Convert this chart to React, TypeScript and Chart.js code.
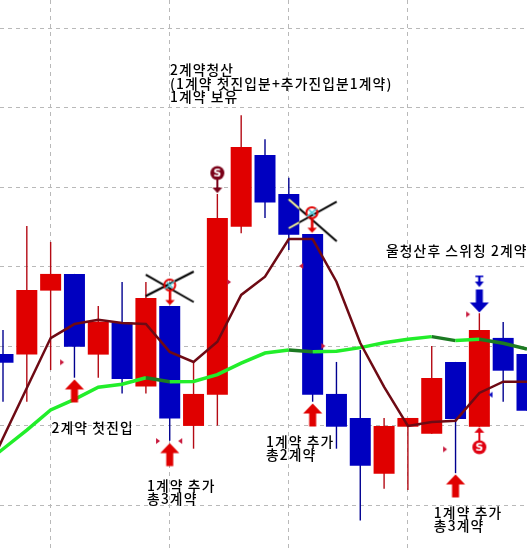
import React, { useEffect, useRef } from "react";
import { Chart, registerables } from "chart.js";

Chart.register(...registerables);

const opens = [209.52, 209.48, 213.5, 214.55, 209.48, 211.49, 207.47, 212.54, 205.0, 206.96, 217.52, 222.02, 219.57, 217.06, 207.01, 205.5, 202.0, 204.95, 204.51, 209.02, 204.95, 210.53, 209.52];
const closes = [208.97, 213.54, 214.55, 209.98, 211.55, 207.95, 213.04, 205.46, 207.01, 218.06, 222.52, 219.03, 217.01, 206.96, 204.95, 202.5, 205.0, 205.5, 208.01, 205.44, 211.03, 208.47, 205.96];
const highs = [211.03, 217.56, 216.56, 214.55, 212.54, 214.04, 214.04, 212.54, 209.04, 219.57, 224.52, 223.01, 220.6, 217.06, 209.02, 209.77, 205.5, 205.5, 210.02, 209.02, 212.08, 211.53, 209.52];
const lows = [206.52, 206.52, 208.51, 208.03, 208.03, 207.03, 207.03, 204.07, 203.57, 205.02, 217.1, 218.06, 216.05, 206.52, 203.57, 199.05, 201.06, 200.98, 204.51, 202.03, 204.95, 206.52, 205.96];
const shortMa = [204.24, 207.38, 210.52, 211.4, 211.67, 211.47, 211.4, 209.65, 209.02, 210.29, 213.23, 214.38, 216.74, 216.74, 214.06, 210.21, 207.45, 205.0, 205.25, 205.33, 207.07, 207.78, 207.78];
const longMa = [203.55, 204.74, 206.0, 206.67, 207.43, 207.62, 208.03, 207.78, 207.79, 208.22, 208.94, 209.58, 209.77, 209.66, 209.69, 209.92, 210.23, 210.44, 210.61, 210.36, 210.44, 210.19, 209.83];
// values of the two averages on the bar just left of the visible window
const shortMaBefore = 200.97;
const longMaBefore = 202.36;

const gridIndexes = [2, 7, 12, 17, 22];
const gridPrices = [200, 205, 210, 215, 220, 225, 230];

const buyIndexes = [3, 7, 13, 19];
const buyPrices = [207.2, 203.2, 205.69, 201.23];
const sellIndexes = [20];
const sellPrices = [212.85];
const smallSellIndexes = [20];
const smallSellPrices = [214.07];
const stopUpIndexes = [20];
const stopUpPrices = [204.07];
const stopDownIndexes = [9];
const stopDownPrices = [220.48];
const crossAIndexes = [7];
const crossAPrices = [213.82];
const crossBIndexes = [13];
const crossBPrices = [217.92];
const tickRightIndexes = [2.48, 6.51, 9.49, 13.45, 18.56, 19.53];
const tickRightPrices = [209.0, 204.05, 214.04, 210.02, 203.53, 212.01];
const tickLeftIndexes = [7.44, 12.52];
const tickLeftPrices = [204.05, 215.05];
const tickBlueIndexes = [20.47];
const tickBluePrices = [206.96];

const noteTexts = [
  "2계약청산",
  "(1계약 첫진입분+추가진입분1계약)",
  "1계약 보유",
  "울청산후 스위칭 2계약",
  "2계약 첫진입",
  "1계약 추가",
  "총3계약",
  "1계약 추가",
  "총2계약",
  "1계약 추가",
  "총3계약",
];
const noteIndexes = [7.01, 7.01, 7.01, 16.08, 2.04, 6.05, 6.05, 11.04, 11.04, 18.09, 18.09];
const notePrices = [227.36, 226.48, 225.67, 215.99, 204.89, 201.23, 200.41, 204.01, 203.17, 199.55, 198.71];

const RED = "#e00000";
const BLUE = "#0000c0";

function sprite(w: number, h: number, paint: (c: CanvasRenderingContext2D) => void) {
  const cv = document.createElement("canvas");
  cv.width = w;
  cv.height = h;
  const c = cv.getContext("2d")!;
  c.translate(w / 2, h / 2);
  paint(c);
  return cv;
}

function poly(c: CanvasRenderingContext2D, color: string, pts: number[][]) {
  c.fillStyle = color;
  c.beginPath();
  pts.forEach((p, i) => (i ? c.lineTo(p[0], p[1]) : c.moveTo(p[0], p[1])));
  c.closePath();
  c.fill();
}

function bigArrow(color: string, dir: number) {
  return sprite(24, 28, (c) => {
    poly(c, color, [
      [0, -11.5 * dir],
      [9.5, -1.5 * dir],
      [3.5, -1.5 * dir],
      [3.5, 11.5 * dir],
      [-3.5, 11.5 * dir],
      [-3.5, -1.5 * dir],
      [-9.5, -1.5 * dir],
    ]);
  });
}

function smallBarArrow(color: string) {
  return sprite(14, 16, (c) => {
    poly(c, color, [[-4, -6], [4, -6], [4, -4.5], [1.2, -4.5], [1.2, 0], [4.5, 0], [0, 5.5], [-4.5, 0], [-1.2, 0], [-1.2, -4.5], [-4, -4.5]]);
  });
}

function stopBadge(color: string, dir: number) {
  // dir = 1: circle above, arrow below pointing down; dir = -1: circle below, arrow above pointing up
  return sprite(22, 34, (c) => {
    const cy = -6.5 * dir;
    c.fillStyle = color;
    c.fillRect(-1, cy, 2, 19 * dir);
    poly(c, color, [[-5, 8 * dir], [5, 8 * dir], [0, 13.5 * dir]]);
    c.beginPath();
    c.arc(0, cy, 7, 0, Math.PI * 2);
    c.fill();
    c.fillStyle = "#ffffff";
    c.font = 'bold 11px "DejaVu Sans"';
    c.textAlign = "center";
    c.textBaseline = "middle";
    c.fillText("S", 0, cy + 0.5);
  });
}

function crossMark(l1: number[], l2: number[], cx: number, cy: number, tail: number, paleLeft: number | null) {
  return sprite(60, 60, (c) => {
    c.strokeStyle = "#000000";
    c.lineWidth = 2;
    for (const l of [l1, l2]) {
      c.beginPath();
      c.moveTo(l[0], l[1]);
      c.lineTo(l[2], l[3]);
      c.stroke();
    }
    if (paleLeft !== null) {
      c.save();
      c.beginPath();
      c.rect(-30, -30, paleLeft + 30, 60);
      c.clip();
      c.strokeStyle = "#f4f4a0";
      for (const l of [l1, l2]) {
        c.beginPath();
        c.moveTo(l[0], l[1]);
        c.lineTo(l[2], l[3]);
        c.stroke();
      }
      c.restore();
    }
    c.strokeStyle = RED;
    c.lineWidth = 2;
    c.beginPath();
    c.arc(cx, cy, 5.5, 0, Math.PI * 2);
    c.stroke();
    c.strokeStyle = "#50c8d8";
    c.lineWidth = 1.5;
    c.beginPath();
    c.moveTo(cx - 5, cy + 4);
    c.lineTo(cx + 5, cy - 4);
    c.moveTo(cx - 3, cy - 3);
    c.lineTo(cx + 3, cy + 3);
    c.stroke();
    c.fillStyle = RED;
    c.fillRect(cx - 1, cy + 6, 2.5, tail - 4);
    poly(c, RED, [[cx - 4.5, cy + tail], [cx + 5, cy + tail], [cx + 0.2, cy + tail + 5]]);
  });
}

function tinyTriangle(color: string, dir: number) {
  return sprite(8, 8, (c) => {
    poly(c, color, [[-2 * dir, -3], [2 * dir, 0], [-2 * dir, 3]]);
  });
}

const pairs = (xs: number[], ys: number[]) => xs.map((x, i) => ({ x, y: ys[i] }));

export default function App() {
  const ref = useRef<HTMLCanvasElement>(null);
  useEffect(() => {
    document.body.style.margin = "0";
    const indexes = opens.map((_, i) => i);
    const up = opens.map((o, i) => closes[i] >= o);
    const marker = (data: any[], style: any, order: number) => ({
      type: "line" as const,
      data,
      showLine: false,
      pointStyle: style,
      pointRadius: 6,
      order,
      clip: false,
    });
    const notesPlugin = {
      id: "notes",
      afterDatasetsDraw(chart: any) {
        const c = chart.ctx;
        c.save();
        c.fillStyle = "#000000";
        c.font = '500 13.8px "Noto Sans CJK KR"';
        c.letterSpacing = "1.1px";
        c.textAlign = "left";
        c.textBaseline = "middle";
        noteTexts.forEach((t, i) => {
          c.fillText(t, chart.scales.x.getPixelForValue(noteIndexes[i]), chart.scales.y.getPixelForValue(notePrices[i]));
        });
        c.restore();
      },
    };
    const chart = new Chart(ref.current!, {
      type: "bar",
      data: {
        datasets: [
          {
            type: "line",
            data: [{ x: -1, y: shortMaBefore }, ...pairs(indexes, shortMa)],
            borderColor: "#6e0a14",
            borderWidth: 2.5,
            pointRadius: 0,
            tension: 0,
            order: 3,
          },
          {
            type: "line",
            data: [{ x: -1, y: longMaBefore }, ...pairs(indexes, longMa)],
            borderColor: "#22ee2a",
            borderWidth: 3.5,
            pointRadius: 0,
            tension: 0,
            order: 4,
            segment: {
              borderColor: (ctx: any) => (ctx.p1.parsed.y < ctx.p0.parsed.y ? "#1c7a22" : "#22ee2a"),
            },
          },
          {
            type: "bar",
            data: indexes.map((i) => ({ x: i, y: [opens[i], closes[i]] })),
            backgroundColor: up.map((u) => (u ? RED : BLUE)),
            barThickness: 21,
            grouped: false,
            inflateAmount: 0,
            borderWidth: 0,
            order: 5,
          },
          {
            type: "bar",
            data: indexes.map((i) => ({ x: i, y: [lows[i], highs[i]] })),
            backgroundColor: up.map((u) => (u ? "#b40a14" : "#000090")),
            barThickness: 1.4,
            grouped: false,
            inflateAmount: 0,
            borderWidth: 0,
            order: 6,
          },
          marker(pairs(buyIndexes, buyPrices), bigArrow(RED, 1), 2),
          marker(pairs(sellIndexes, sellPrices), bigArrow(BLUE, -1), 2),
          marker(pairs(smallSellIndexes, smallSellPrices), smallBarArrow(BLUE), 2),
          marker(pairs(stopUpIndexes, stopUpPrices), stopBadge("#e00010", -1), 2),
          marker(pairs(stopDownIndexes, stopDownPrices), stopBadge("#7a0018", 1), 2),
          marker(pairs(crossAIndexes, crossAPrices), crossMark([-24, -10.8, 24, 16.5], [-24, 10.5, 24, -14], 0, -0.5, 15, null), 1),
          marker(pairs(crossBIndexes, crossBPrices), crossMark([-24, -21, 24, 21], [-24, 8, 24, -18.6], -0.8, -7.6, 15, -13.5), 1),
          marker(pairs(tickRightIndexes, tickRightPrices), tinyTriangle("#c8183c", 1), 2),
          marker(pairs(tickLeftIndexes, tickLeftPrices), tinyTriangle("#c8183c", -1), 2),
          marker(pairs(tickBlueIndexes, tickBluePrices), tinyTriangle("#1010c0", -1), 2),
        ] as any,
      },
      options: {
        responsive: false,
        animation: false,
        layout: { padding: 0, autoPadding: false },
        plugins: { legend: { display: false }, tooltip: { enabled: false } },
        scales: {
          x: {
            type: "linear",
            offset: false,
            min: -0.126,
            max: 22,
            afterBuildTicks: (a: any) => {
              a.ticks = gridIndexes.map((value) => ({ value }));
            },
            ticks: { display: false },
            grid: { color: "#b9b9b9", lineWidth: 1, drawTicks: false, offset: false },
            border: { display: false, dash: [4, 4] },
          },
          y: {
            min: 197.33,
            max: 231.76,
            afterBuildTicks: (a: any) => {
              a.ticks = gridPrices.map((value) => ({ value }));
            },
            ticks: { display: false },
            grid: { color: "#b9b9b9", lineWidth: 1, drawTicks: false },
            border: { display: false, dash: [4, 4] },
          },
        },
      } as any,
      plugins: [notesPlugin],
    });
    return () => chart.destroy();
  }, []);
  return <canvas ref={ref} width={527} height={548} style={{ display: "block", position: "fixed", left: 0, top: 0 }} />;
}
